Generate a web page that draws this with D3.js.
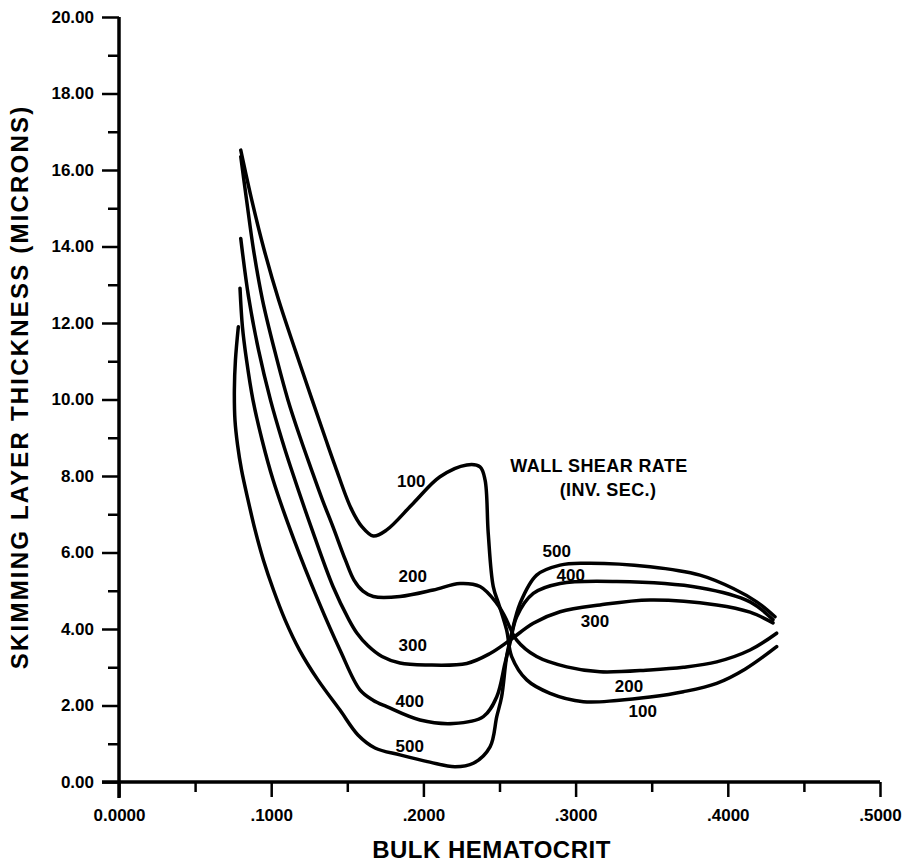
<!DOCTYPE html>
<html>
<head>
<meta charset="utf-8">
<script src="https://cdn.jsdelivr.net/npm/d3@7"></script>
<style>
body { margin: 0; background: #fff; }
text { font-family: "Liberation Sans", Arial, sans-serif; font-weight: bold; fill: #000; }
</style>
</head>
<body>
<div id="chart"></div>
<script>
// skimming layer thickness (microns) vs bulk hematocrit, one path per wall shear rate
const rate100 = [[0.0800,16.52],[0.0872,15.22],[0.0954,13.91],[0.1049,12.60],[0.1158,11.29],[0.1269,9.99],[0.1360,8.94],[0.1422,8.24],[0.1524,7.16],[0.1597,6.67],[0.1671,6.43],[0.1759,6.59],[0.1934,7.29],[0.2109,7.98],[0.2285,8.29],[0.2372,8.24],[0.2405,7.90],[0.2426,6.50],[0.2459,5.11],[0.2497,4.63],[0.2547,3.97],[0.2580,3.28],[0.2679,2.67],[0.2832,2.32],[0.3051,2.10],[0.3270,2.13],[0.3489,2.22],[0.3708,2.36],[0.3927,2.58],[0.4113,2.95],[0.4321,3.54]];
const rate200 = [[0.0800,16.35],[0.0838,15.22],[0.0884,13.91],[0.0943,12.60],[0.1022,11.29],[0.1110,9.99],[0.1196,8.94],[0.1258,8.24],[0.1337,7.37],[0.1406,6.67],[0.1488,5.80],[0.1544,5.28],[0.1603,4.99],[0.1671,4.85],[0.1846,4.85],[0.2065,5.02],[0.2240,5.19],[0.2372,5.11],[0.2482,4.67],[0.2536,4.32],[0.2613,3.71],[0.2744,3.28],[0.2942,3.01],[0.3160,2.88],[0.3489,2.93],[0.3708,3.00],[0.3927,3.14],[0.4146,3.45],[0.4321,3.89]];
const rate300 = [[0.0800,14.21],[0.0851,12.69],[0.0917,11.29],[0.0995,9.99],[0.1071,8.94],[0.1127,8.24],[0.1262,6.67],[0.1406,5.11],[0.1511,4.24],[0.1564,3.89],[0.1636,3.56],[0.1728,3.28],[0.1846,3.11],[0.2022,3.06],[0.2285,3.10],[0.2438,3.36],[0.2569,3.71],[0.2722,4.15],[0.2898,4.45],[0.3160,4.63],[0.3489,4.76],[0.3927,4.63],[0.4146,4.44],[0.4297,4.16]];
const rate400 = [[0.0795,12.91],[0.0811,11.90],[0.0838,11.03],[0.0880,9.99],[0.0940,8.94],[0.1012,7.90],[0.1150,6.33],[0.1307,4.76],[0.1452,3.45],[0.1583,2.41],[0.1669,2.14],[0.1759,1.97],[0.1978,1.62],[0.2196,1.53],[0.2394,1.71],[0.2482,2.23],[0.2536,3.10],[0.2569,3.63],[0.2613,4.32],[0.2722,4.93],[0.2898,5.19],[0.3270,5.24],[0.3817,5.08],[0.4146,4.71],[0.4297,4.24]];
const rate500 = [[0.0784,11.90],[0.0765,11.03],[0.0758,10.25],[0.0762,9.46],[0.0779,8.81],[0.0805,8.16],[0.0848,7.37],[0.0894,6.59],[0.0949,5.80],[0.1015,5.02],[0.1091,4.24],[0.1186,3.45],[0.1307,2.67],[0.1452,1.88],[0.1570,1.23],[0.1682,0.89],[0.1846,0.71],[0.2043,0.52],[0.2208,0.40],[0.2328,0.49],[0.2438,0.92],[0.2482,1.71],[0.2514,2.23],[0.2547,3.28],[0.2580,3.89],[0.2635,4.67],[0.2744,5.41],[0.2898,5.67],[0.3051,5.72],[0.3489,5.63],[0.3817,5.41],[0.4036,5.06],[0.4190,4.71],[0.4310,4.32]];

const shearRates = ['100', '200', '300', '400', '500'];
const series = [rate100, rate200, rate300, rate400, rate500];

// where each rate is written, in data units (left group, right group)
const leftLabelAt = [[0.192,7.85],[0.193,5.37],[0.193,3.58],[0.191,2.10],[0.191,0.92]];
const rightLabelAt = [[0.3441,1.84],[0.3351,2.49],[0.3127,4.19],[0.2968,5.39],[0.2876,6.02]];

const xTicks = [0, 0.1, 0.2, 0.3, 0.4, 0.5];
const xMinor = [0.05, 0.15, 0.25, 0.35, 0.45];
const yTicks = [0, 2, 4, 6, 8, 10, 12, 14, 16, 18, 20];
const yMinor = [1, 3, 5, 7, 9, 11, 13, 15, 17, 19];

const legendTitle = ['WALL SHEAR RATE', '(INV. SEC.)'];
const legendAt = [[0.3154, 8.26], [0.3213, 7.63]];

let margin = { top: 17, right: 37, bottom: 80, left: 119 };
let width = 917 - margin.left - margin.right;
let height = 862 - margin.top - margin.bottom;

let svg = d3.select('#chart')
    .append('svg')
    .attr('width', 917)
    .attr('height', 862);

let g = svg.append('g')
    .attr('transform', 'translate(' + margin.left + ',' + margin.top + ')');

let x = d3.scaleLinear().domain([0, 0.5]).range([0, width]);
let y = d3.scaleLinear().domain([0, 20]).range([height, 0]);

// minor ticks first, no labels
g.append('g')
    .attr('transform', 'translate(0,' + height + ')')
    .call(d3.axisBottom(x).tickValues(xMinor).tickSize(10).tickSizeOuter(0).tickFormat(''))
    .call(a => a.select('.domain').remove());
g.append('g')
    .call(d3.axisLeft(y).tickValues(yMinor).tickSize(11).tickSizeOuter(0).tickFormat(''))
    .call(a => a.select('.domain').remove());

let xAxis = g.append('g')
    .attr('transform', 'translate(0,' + height + ')')
    .call(d3.axisBottom(x).tickValues(xTicks).tickSize(15).tickSizeOuter(0).tickPadding(12)
        .tickFormat(d => d === 0 ? '0.0000' : d3.format('.4f')(d).replace(/^0/, '')));
xAxis.select('.domain').remove();

let yAxis = g.append('g')
    .call(d3.axisLeft(y).tickValues(yTicks).tickSize(17).tickSizeOuter(0).tickPadding(8)
        .tickFormat(d3.format('.2f')));
yAxis.select('.domain').remove();

svg.selectAll('.tick line').attr('stroke', '#000').attr('stroke-width', 2.5);
svg.selectAll('.tick text').style('font-size', '17px').attr('fill', '#000');

// axis lines, the x line runs out to the end of the 0.00 tick, the y line dips below it
g.append('line')
    .attr('x1', x(0) - 17).attr('x2', x(0.5))
    .attr('y1', y(0)).attr('y2', y(0))
    .attr('stroke', '#000').attr('stroke-width', 3.5);
g.append('line')
    .attr('x1', x(0)).attr('x2', x(0))
    .attr('y1', y(20)).attr('y2', y(0) + 16)
    .attr('stroke', '#000').attr('stroke-width', 3.5);

let line = d3.line()
    .x(d => x(d[0]))
    .y(d => y(d[1]))
    .curve(d3.curveCatmullRom.alpha(0.5));

g.selectAll('path.curve')
    .data(series)
    .enter()
    .append('path')
    .attr('class', 'curve')
    .attr('d', line)
    .attr('fill', 'none')
    .attr('stroke', '#000')
    .attr('stroke-width', 3.5)
    .attr('stroke-linejoin', 'round')
    .attr('stroke-linecap', 'round');

g.selectAll('text.left-lab')
    .data(shearRates)
    .enter()
    .append('text')
    .attr('class', 'left-lab')
    .attr('x', (d, i) => x(leftLabelAt[i][0]))
    .attr('y', (d, i) => y(leftLabelAt[i][1]))
    .attr('text-anchor', 'middle')
    .attr('dominant-baseline', 'central')
    .style('font-size', '17px')
    .text(d => d);

g.selectAll('text.right-lab')
    .data(shearRates)
    .enter()
    .append('text')
    .attr('class', 'right-lab')
    .attr('x', (d, i) => x(rightLabelAt[i][0]))
    .attr('y', (d, i) => y(rightLabelAt[i][1]))
    .attr('text-anchor', 'middle')
    .attr('dominant-baseline', 'central')
    .style('font-size', '17px')
    .text(d => d);

g.selectAll('text.legend')
    .data(legendTitle)
    .enter()
    .append('text')
    .attr('class', 'legend')
    .attr('x', (d, i) => x(legendAt[i][0]))
    .attr('y', (d, i) => y(legendAt[i][1]))
    .attr('text-anchor', 'middle')
    .attr('dominant-baseline', 'central')
    .style('font-size', '18px')
    .style('letter-spacing', '0.4px')
    .text(d => d);

svg.append('text')
    .attr('x', margin.left + x(0.25) - 8)
    .attr('y', 858)
    .attr('text-anchor', 'middle')
    .style('font-size', '24px')
    .style('letter-spacing', '0.5px')
    .text('BULK HEMATOCRIT');

svg.append('text')
    .attr('transform', 'translate(28,' + (margin.top + y(10.33)) + ') rotate(-90)')
    .attr('text-anchor', 'middle')
    .style('font-size', '24px')
    .style('letter-spacing', '2.2px')
    .text('SKIMMING LAYER THICKNESS (MICRONS)');
</script>
</body>
</html>
